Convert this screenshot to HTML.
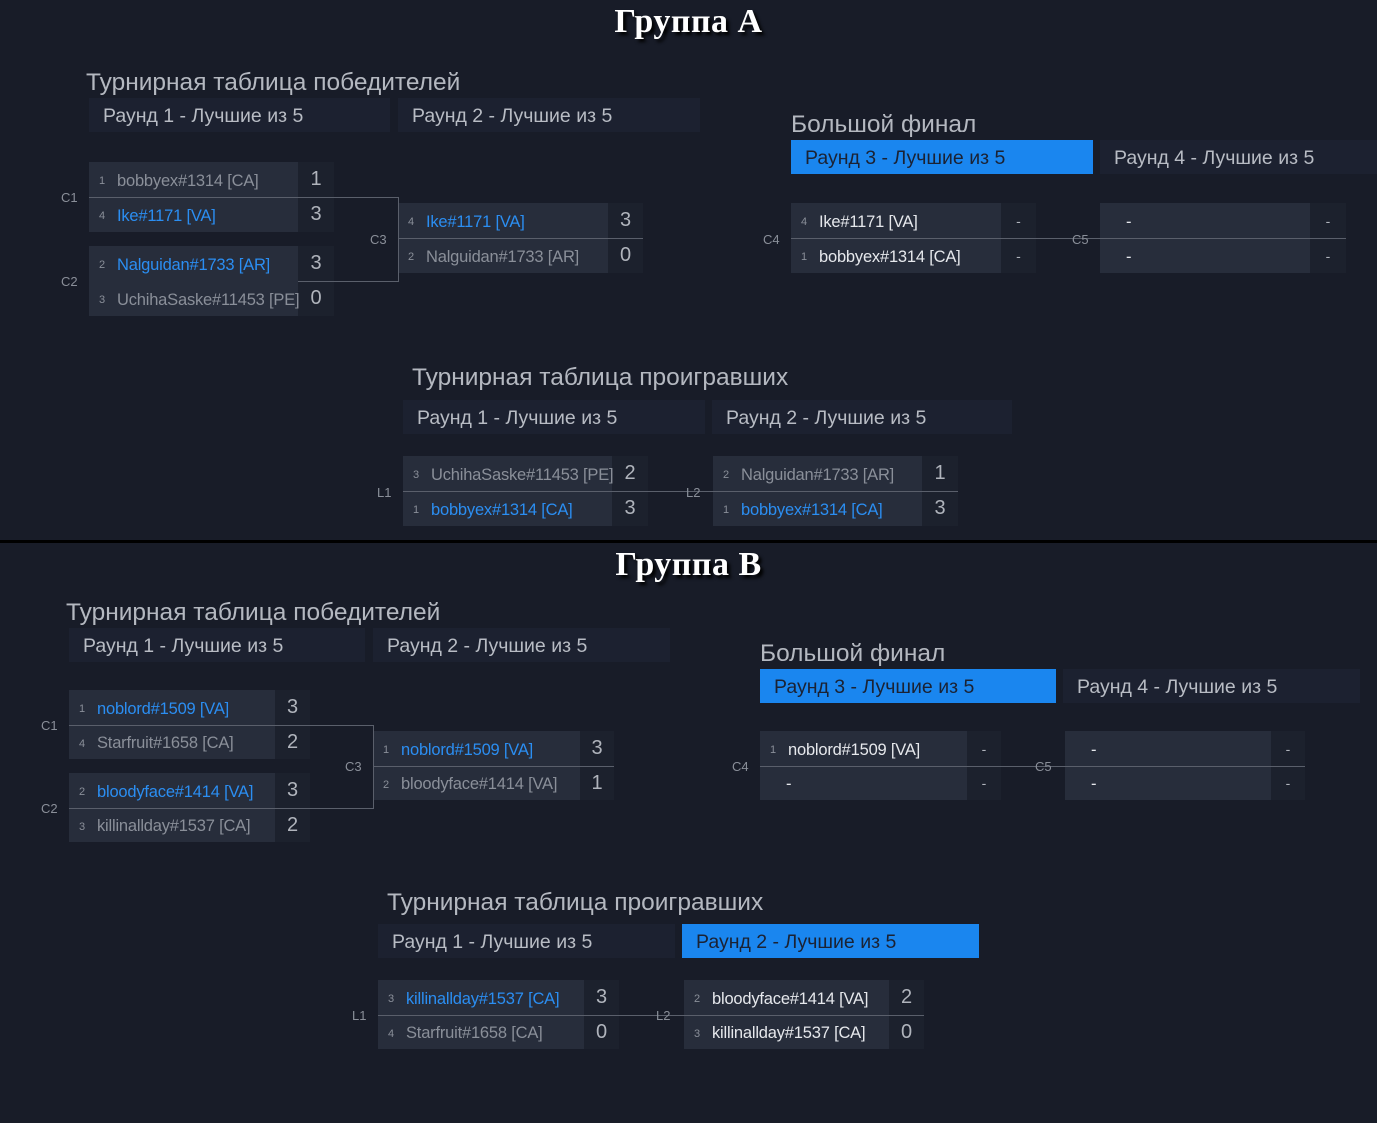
<!DOCTYPE html>
<html><head><meta charset="utf-8"><style>
body{margin:0;width:1377px;height:1123px;background:#181c28;position:relative;overflow:hidden;font-family:"Liberation Sans","DejaVu Sans",sans-serif}
.t{position:absolute;width:1377px;text-align:center;font-family:"Liberation Serif","DejaVu Serif",serif;font-weight:bold;font-size:34px;color:#fff;text-shadow:3px 3px 3px #000;letter-spacing:0.5px}
.h{position:absolute;font-size:24.5px;color:#b4b8c0;white-space:nowrap}
.tab{position:absolute;height:34px;background:#1c2130;color:#b8bcc4;font-size:19.5px;line-height:36px;padding-left:14px;box-sizing:border-box;white-space:nowrap}
.tab.b{background:#1a86ef;color:#1b2233}
.m{position:absolute}
.r{display:flex;height:35px}
.nb{width:var(--nw);background:#272d3b;display:flex;align-items:center;padding-left:10px;padding-top:3px;box-sizing:border-box;white-space:nowrap;overflow:hidden;font-size:16.5px;letter-spacing:-0.2px;color:#8a8f99}
.nb.o{overflow:visible;position:relative;z-index:1}
.sd{font-size:11px;color:#8a8f99;width:18px;flex:none;letter-spacing:0}
.w{color:#2b8ef2}
.f{color:#e6e8ec}
.sc{width:var(--sw);background:#1c212d;font-size:20px;color:#b0b4bc;display:flex;align-items:center;justify-content:center}
.ln{position:absolute;height:1px;background:#5a5f6b}
.vl{position:absolute;width:1px;background:#5a5f6b}
.lb{position:absolute;font-size:13px;color:#8a8f99}
.dv{position:absolute;left:0;top:540px;width:1377px;height:3px;background:#000}
</style></head><body>

<div class="t" style="top:3px">Группа A</div>
<div class="h" style="left:86px;top:69px">Турнирная таблица победителей</div>
<div class="tab" style="left:89px;top:98px;width:301px">Раунд 1 - Лучшие из 5</div>
<div class="tab" style="left:398px;top:98px;width:302px">Раунд 2 - Лучшие из 5</div>

<div class="m" style="left:89px;top:162px;--nw:209px;--sw:36px">
<div class="r"><div class="nb"><span class="sd">1</span>bobbyex#1314 [CA]</div><div class="sc">1</div></div>
<div class="r"><div class="nb"><span class="sd">4</span><span class="w">Ike#1171 [VA]</span></div><div class="sc">3</div></div>
</div>
<div class="m" style="left:89px;top:246px;--nw:209px;--sw:36px">
<div class="r"><div class="nb"><span class="sd">2</span><span class="w">Nalguidan#1733 [AR]</span></div><div class="sc">3</div></div>
<div class="r"><div class="nb o"><span class="sd">3</span>UchihaSaske#11453 [PE]</div><div class="sc">0</div></div>
</div>
<div class="m" style="left:398px;top:203px;--nw:210px;--sw:35px">
<div class="r"><div class="nb"><span class="sd">4</span><span class="w">Ike#1171 [VA]</span></div><div class="sc">3</div></div>
<div class="r"><div class="nb"><span class="sd">2</span>Nalguidan#1733 [AR]</div><div class="sc">0</div></div>
</div>
<div class="ln" style="left:89px;top:197px;width:309px"></div>
<div class="ln" style="left:89px;top:281px;width:309px"></div>
<div class="vl" style="left:398px;top:197px;height:85px"></div>
<div class="ln" style="left:398px;top:238px;width:245px"></div>
<div class="lb" style="left:61px;top:190px">C1</div>
<div class="lb" style="left:61px;top:274px">C2</div>
<div class="lb" style="left:370px;top:232px">C3</div>

<div class="h" style="left:791px;top:111px">Большой финал</div>
<div class="tab b" style="left:791px;top:140px;width:302px">Раунд 3 - Лучшие из 5</div>
<div class="tab" style="left:1100px;top:140px;width:277px">Раунд 4 - Лучшие из 5</div>
<div class="m" style="left:791px;top:203px;--nw:210px;--sw:35px">
<div class="r"><div class="nb"><span class="sd">4</span><span class="f">Ike#1171 [VA]</span></div><div class="sc" style="font-size:14px">-</div></div>
<div class="r"><div class="nb"><span class="sd">1</span><span class="f">bobbyex#1314 [CA]</span></div><div class="sc" style="font-size:14px">-</div></div>
</div>
<div class="m" style="left:1100px;top:203px;--nw:210px;--sw:36px">
<div class="r"><div class="nb" style="padding-left:26px"><span class="f">-</span></div><div class="sc" style="font-size:14px">-</div></div>
<div class="r"><div class="nb" style="padding-left:26px"><span class="f">-</span></div><div class="sc" style="font-size:14px">-</div></div>
</div>
<div class="ln" style="left:791px;top:238px;width:555px"></div>
<div class="lb" style="left:763px;top:232px">C4</div>
<div class="lb" style="left:1072px;top:232px">C5</div>

<div class="h" style="left:412px;top:364px">Турнирная таблица проигравших</div>
<div class="tab" style="left:403px;top:400px;width:302px">Раунд 1 - Лучшие из 5</div>
<div class="tab" style="left:712px;top:400px;width:300px">Раунд 2 - Лучшие из 5</div>
<div class="m" style="left:403px;top:456px;--nw:209px;--sw:36px">
<div class="r"><div class="nb o"><span class="sd">3</span>UchihaSaske#11453 [PE]</div><div class="sc">2</div></div>
<div class="r"><div class="nb"><span class="sd">1</span><span class="w">bobbyex#1314 [CA]</span></div><div class="sc">3</div></div>
</div>
<div class="m" style="left:713px;top:456px;--nw:209px;--sw:36px">
<div class="r"><div class="nb"><span class="sd">2</span>Nalguidan#1733 [AR]</div><div class="sc">1</div></div>
<div class="r"><div class="nb"><span class="sd">1</span><span class="w">bobbyex#1314 [CA]</span></div><div class="sc">3</div></div>
</div>
<div class="ln" style="left:403px;top:491px;width:555px"></div>
<div class="lb" style="left:377px;top:485px">L1</div>
<div class="lb" style="left:686px;top:485px">L2</div>

<div class="dv"></div>

<div class="t" style="top:546px">Группа B</div>
<div class="h" style="left:66px;top:599px">Турнирная таблица победителей</div>
<div class="tab" style="left:69px;top:628px;width:296px">Раунд 1 - Лучшие из 5</div>
<div class="tab" style="left:373px;top:628px;width:297px">Раунд 2 - Лучшие из 5</div>
<div class="m" style="left:69px;top:690px;--nw:206px;--sw:35px">
<div class="r"><div class="nb"><span class="sd">1</span><span class="w">noblord#1509 [VA]</span></div><div class="sc">3</div></div>
<div class="r" style="height:34px"><div class="nb"><span class="sd">4</span>Starfruit#1658 [CA]</div><div class="sc">2</div></div>
</div>
<div class="m" style="left:69px;top:773px;--nw:206px;--sw:35px">
<div class="r"><div class="nb"><span class="sd">2</span><span class="w">bloodyface#1414 [VA]</span></div><div class="sc">3</div></div>
<div class="r" style="height:34px"><div class="nb"><span class="sd">3</span>killinallday#1537 [CA]</div><div class="sc">2</div></div>
</div>
<div class="m" style="left:373px;top:731px;--nw:207px;--sw:34px">
<div class="r"><div class="nb"><span class="sd">1</span><span class="w">noblord#1509 [VA]</span></div><div class="sc">3</div></div>
<div class="r" style="height:34px"><div class="nb"><span class="sd">2</span>bloodyface#1414 [VA]</div><div class="sc">1</div></div>
</div>
<div class="ln" style="left:69px;top:725px;width:304px"></div>
<div class="ln" style="left:69px;top:808px;width:304px"></div>
<div class="vl" style="left:373px;top:725px;height:84px"></div>
<div class="ln" style="left:373px;top:766px;width:241px"></div>
<div class="lb" style="left:41px;top:718px">C1</div>
<div class="lb" style="left:41px;top:801px">C2</div>
<div class="lb" style="left:345px;top:759px">C3</div>

<div class="h" style="left:760px;top:640px">Большой финал</div>
<div class="tab b" style="left:760px;top:669px;width:296px">Раунд 3 - Лучшие из 5</div>
<div class="tab" style="left:1063px;top:669px;width:297px">Раунд 4 - Лучшие из 5</div>
<div class="m" style="left:760px;top:731px;--nw:207px;--sw:34px">
<div class="r"><div class="nb"><span class="sd">1</span><span class="f">noblord#1509 [VA]</span></div><div class="sc" style="font-size:14px">-</div></div>
<div class="r" style="height:34px"><div class="nb" style="padding-left:26px"><span class="f">-</span></div><div class="sc" style="font-size:14px">-</div></div>
</div>
<div class="m" style="left:1065px;top:731px;--nw:206px;--sw:34px">
<div class="r"><div class="nb" style="padding-left:26px"><span class="f">-</span></div><div class="sc" style="font-size:14px">-</div></div>
<div class="r" style="height:34px"><div class="nb" style="padding-left:26px"><span class="f">-</span></div><div class="sc" style="font-size:14px">-</div></div>
</div>
<div class="ln" style="left:760px;top:766px;width:545px"></div>
<div class="lb" style="left:732px;top:759px">C4</div>
<div class="lb" style="left:1035px;top:759px">C5</div>

<div class="h" style="left:387px;top:889px">Турнирная таблица проигравших</div>
<div class="tab" style="left:378px;top:924px;width:297px">Раунд 1 - Лучшие из 5</div>
<div class="tab b" style="left:682px;top:924px;width:297px">Раунд 2 - Лучшие из 5</div>
<div class="m" style="left:378px;top:980px;--nw:206px;--sw:35px">
<div class="r"><div class="nb"><span class="sd">3</span><span class="w">killinallday#1537 [CA]</span></div><div class="sc">3</div></div>
<div class="r" style="height:34px"><div class="nb"><span class="sd">4</span>Starfruit#1658 [CA]</div><div class="sc">0</div></div>
</div>
<div class="m" style="left:684px;top:980px;--nw:205px;--sw:35px">
<div class="r"><div class="nb"><span class="sd">2</span><span class="f">bloodyface#1414 [VA]</span></div><div class="sc">2</div></div>
<div class="r" style="height:34px"><div class="nb"><span class="sd">3</span><span class="f">killinallday#1537 [CA]</span></div><div class="sc">0</div></div>
</div>
<div class="ln" style="left:378px;top:1015px;width:546px"></div>
<div class="lb" style="left:352px;top:1008px">L1</div>
<div class="lb" style="left:656px;top:1008px">L2</div>

</body></html>
